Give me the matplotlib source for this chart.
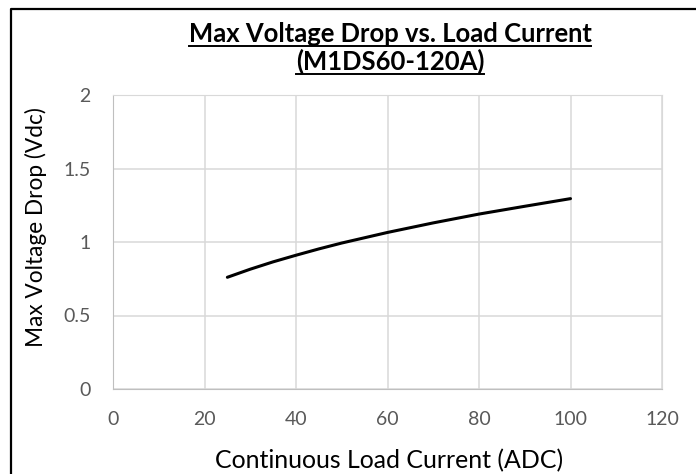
import matplotlib
matplotlib.use('Agg')
import matplotlib.pyplot as plt
from matplotlib.lines import Line2D

plt.rcParams['font.family'] = ['Lato', 'DejaVu Sans']

# data
current = [25, 30, 35, 40, 45, 50, 60, 70, 80, 90, 100]
vdrop = [0.76, 0.815, 0.865, 0.91, 0.953, 0.993, 1.065, 1.13, 1.19, 1.243, 1.295]
xticks = [0, 20, 40, 60, 80, 100, 120]
yticks = [0, 0.5, 1, 1.5, 2]
ytick_labels = ['0', '0.5', '1', '1.5', '2']
title_lines = ['Max Voltage Drop vs. Load Current', '(M1DS60-120A)']
xlabel = 'Continuous Load Current (ADC)'
ylabel = 'Max Voltage Drop (Vdc)'

W, H = 696, 474
fig = plt.figure(figsize=(W/100, H/100), dpi=100)
ax = fig.add_axes([113/W, 1-389/H, (662-113)/W, (389-95)/H])

ax.plot(current, vdrop, color='black', lw=2.2, solid_capstyle='round')
ax.set_xlim(0, 120)
ax.set_ylim(0, 2)
ax.set_xticks(xticks)
ax.set_yticks(yticks, ytick_labels)
ax.grid(True, color='#d9d9d9', lw=1.1)
ax.set_axisbelow(True)
for s in ax.spines.values():
    s.set_color('#d9d9d9')
ax.spines['left'].set_color('#bfbfbf')
ax.spines['bottom'].set_color('#bfbfbf')
ax.tick_params(length=0, labelsize=14, labelcolor='#595959')
ax.tick_params(axis='y', pad=16)
ax.tick_params(axis='x', pad=16)

def px(x, y):
    return x/W, 1-y/H

# text sized so its width matches the reference
def fitted(x, y, s, width, size, **kw):
    t = fig.text(*px(x, y), s, fontsize=size, **kw)
    fig.canvas.draw()
    bb = t.get_window_extent(fig.canvas.get_renderer())
    w = bb.height if kw.get('rotation') == 90 else bb.width
    t.set_fontsize(size*width/w)
    return t

t1 = fitted(390, 42, title_lines[0], 405, 16, ha='center', va='baseline', fontweight='bold')
t2 = fig.text(*px(390, 70), title_lines[1], fontsize=t1.get_fontsize(),
              ha='center', va='baseline', fontweight='bold')
fitted(389, 468, xlabel, 350, 16, ha='center', va='baseline')
fitted(36, 227, ylabel, 240, 16, ha='center', va='center', rotation=90)

# underline the title lines
fig.canvas.draw()
r = fig.canvas.get_renderer()
for t, yb in zip([t1, t2], [42, 70]):
    bb = t.get_window_extent(r)
    fig.add_artist(Line2D([bb.x0/W, bb.x1/W], [1-(yb+4)/H]*2,
                          transform=fig.transFigure, color='black', lw=1.4))

# outer chart border (only left and top fall inside the image)
fig.add_artist(Line2D([11/W, 11/W, 1.01], [-0.01, 1-9/H, 1-9/H],
                      transform=fig.transFigure, color='black', lw=1.6))

fig.savefig('out.png', dpi=100)
